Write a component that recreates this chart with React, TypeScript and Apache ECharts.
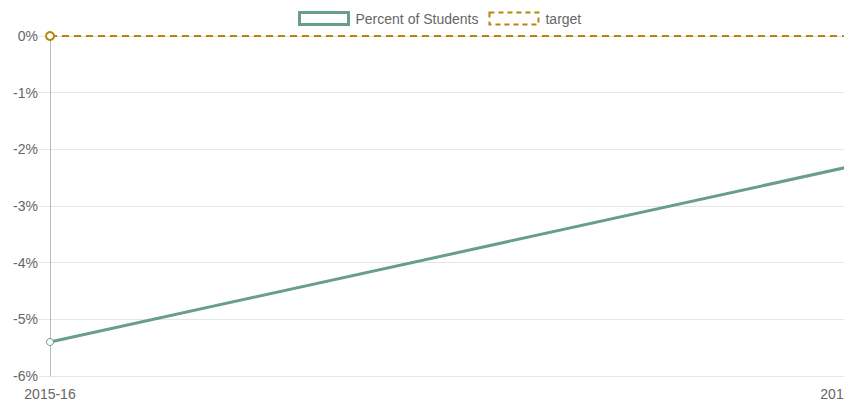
import React, { useEffect, useRef } from "react";
import * as echarts from "echarts";

const categories = ["2015-16", "2016-17"];
const percentValues = [-5.4, -2.32];
const targetValues = [0, 0];
const yTicks = { min: -6, max: 0, interval: 1 };

const GREEN = "#689e8a";
const GOLD = "#b8860b";
const FONT = "'Liberation Sans', Helvetica, Arial, sans-serif";

export default function App() {
  const ref = useRef<HTMLDivElement>(null);
  useEffect(() => {
    if (!ref.current) return;
    document.documentElement.style.overflow = "hidden";
    const chart = echarts.init(ref.current, undefined, { renderer: "svg", width: 844, height: 398 });
    const mk = (vals: number[], firstSymbolSize: number, border: number, color: string) =>
      vals.map((v, i) =>
        i === 0
          ? { value: v, symbol: "circle", symbolSize: firstSymbolSize, itemStyle: { color: "#fff", borderColor: color, borderWidth: border } }
          : { value: v, symbol: "none" }
      );
    chart.setOption({
      animation: false,
      textStyle: { fontFamily: FONT },
      legend: {
        left: 290,
        top: 3,
        padding: 0,
        itemWidth: 49,
        itemHeight: 12,
        itemGap: 10,
        textStyle: { fontSize: 14, color: "#666", fontFamily: FONT, padding: [0, 0, 0, 2] },
        data: [
          { name: "Percent of Students", icon: "rect", itemStyle: { color: "#fff", borderColor: GREEN, borderWidth: 3 } },
          { name: "target", icon: "rect", itemStyle: { color: "#fff", borderColor: GOLD, borderWidth: 2, borderType: [5, 4] } },
        ],
      },
      grid: { left: 42, right: 6, top: 28, bottom: 30, containLabel: false, outerBoundsMode: "none" },
      xAxis: {
        type: "category",
        data: categories,
        boundaryGap: false,
        axisLine: { show: true, lineStyle: { color: "#ddd", width: 1 } },
        axisTick: { show: true, length: 7, interval: (i: number) => i === 0, lineStyle: { color: "#bbb" } },
        axisLabel: { color: "#666", fontSize: 14, margin: 11, fontFamily: FONT, hideOverlap: false },
        splitLine: { show: false },
      },
      yAxis: {
        type: "value",
        min: yTicks.min,
        max: yTicks.max,
        interval: yTicks.interval,
        axisLine: { show: true, lineStyle: { color: "#bbb", width: 1 } },
        axisTick: { show: true, length: 11, lineStyle: { color: "#e6e6e6" } },
        axisLabel: { color: "#666", fontSize: 14, margin: 12, fontFamily: FONT, formatter: "{value}%" },
        splitLine: { show: true, lineStyle: { color: "#e6e6e6", width: 1 } },
      },
      series: [
        {
          name: "Percent of Students",
          type: "line",
          data: mk(percentValues, 7, 1, GREEN),
          lineStyle: { color: GREEN, width: 3 },
          itemStyle: { color: GREEN },
          showAllSymbol: true,
          z: 2,
        },
        {
          name: "target",
          type: "line",
          data: mk(targetValues, 8, 2, GOLD),
          lineStyle: { color: GOLD, width: 2, type: [7, 5] },
          itemStyle: { color: GOLD },
          showAllSymbol: true,
          z: 3,
        },
      ],
    });
    return () => chart.dispose();
  }, []);
  return <div ref={ref} style={{ width: 844, height: 398 }} />;
}
